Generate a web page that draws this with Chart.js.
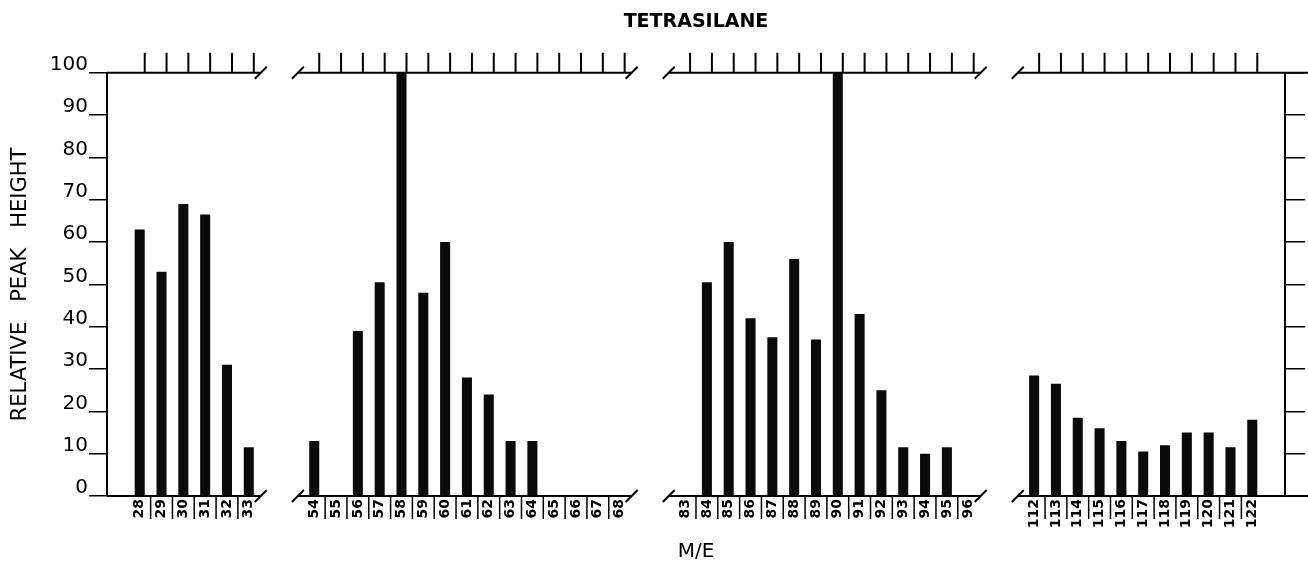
<!DOCTYPE html>
<html>
<head>
<meta charset="utf-8">
<title>Tetrasilane</title>
<script src="https://cdn.jsdelivr.net/npm/chart.js@4.4.1/dist/chart.umd.min.js"></script>
<style>
  html, body { margin: 0; padding: 0; background: #fff; }
  #wrap { width: 1308px; height: 567px; position: relative; }
</style>
</head>
<body>
<div id="wrap"><canvas id="massChart"></canvas></div>
<script>
// m/e groups on the broken axis
const groupA = ['28', '29', '30', '31', '32', '33'];
const groupB = ['54', '55', '56', '57', '58', '59', '60', '61', '62', '63', '64', '65', '66', '67', '68'];
const groupC = ['83', '84', '85', '86', '87', '88', '89', '90', '91', '92', '93', '94', '95', '96'];
const groupD = ['112', '113', '114', '115', '116', '117', '118', '119', '120', '121', '122'];

// relative peak heights
const heightsA = [63, 53, 69, 66.5, 31, 11.5];
const heightsB = [13, 0, 39, 50.5, 100, 48, 60, 28, 24, 13, 13, 0, 0, 0, 0];
const heightsC = [0, 50.5, 60, 42, 37.5, 56, 37, 100, 43, 25, 11.5, 10, 11.5, 0];
const heightsD = [28.5, 26.5, 18.5, 16, 13, 10.5, 12, 15, 15, 11.5, 18];

const yMin = 0;
const yMax = 100;
const yStep = 10;

// blank slots make the gaps where the axis is broken
const gap = ['', ''];
const labels = [''].concat(groupA, gap, groupB, gap, groupC, gap, groupD, ['']);
const heights = [null].concat(heightsA, [null, null], heightsB, [null, null],
    heightsC, [null, null], heightsD, [null]);

Chart.defaults.font.family = "'DejaVu Sans', sans-serif";
Chart.defaults.color = '#000';

// top/bottom axis lines with break marks, top ticks, label separators
const brokenAxes = {
    id: 'brokenAxes',
    afterDraw(chart) {
        const ctx = chart.ctx;
        const xs = chart.scales.x;
        const area = chart.chartArea;
        const slot = xs.getPixelForTick(1) - xs.getPixelForTick(0);

        // runs of filled labels = axis segments
        const segs = [];
        let start = null;
        labels.forEach((lab, i) => {
            if (lab !== '' && start === null) start = i;
            if (lab === '' && start !== null) { segs.push([start, i - 1]); start = null; }
        });
        if (start !== null) segs.push([start, labels.length - 1]);

        ctx.save();
        ctx.strokeStyle = '#000';
        ctx.lineWidth = 2;
        ctx.lineCap = 'butt';

        const slash = (x, y) => {
            ctx.beginPath();
            ctx.moveTo(x - 6, y + 6);
            ctx.lineTo(x + 6, y - 6);
            ctx.stroke();
        };

        segs.forEach((s, k) => {
            const first = k === 0;
            const last = k === segs.length - 1;
            const x0 = first ? area.left : xs.getPixelForTick(s[0]) - 0.75 * slot;
            const x1 = last ? chart.width : xs.getPixelForTick(s[1]) + 0.55 * slot;
            [area.top, area.bottom].forEach(y => {
                ctx.beginPath();
                ctx.moveTo(x0, y);
                ctx.lineTo(x1, y);
                ctx.stroke();
                if (!first) slash(x0, y);
                if (!last) slash(x1, y);
            });

            for (let i = s[0]; i <= s[1]; i++) {
                const px = xs.getPixelForTick(i);
                // tick marks above the top line
                ctx.beginPath();
                ctx.moveTo(px + 5, area.top);
                ctx.lineTo(px + 5, area.top - 20);
                ctx.stroke();
                // separators between the m/e labels
                if (i > s[0]) {
                    const mid = (px + xs.getPixelForTick(i - 1)) / 2;
                    ctx.lineWidth = 1.5;
                    ctx.beginPath();
                    ctx.moveTo(mid, area.bottom);
                    ctx.lineTo(mid, area.bottom + 23);
                    ctx.stroke();
                    ctx.lineWidth = 2;
                }
            }
        });
        ctx.restore();
    }
};

const ctx = document.getElementById('massChart').getContext('2d');
new Chart(ctx, {
    type: 'bar',
    data: {
        labels: labels,
        datasets: [{
            data: heights,
            backgroundColor: '#0a0a0a',
            borderWidth: 0,
            barPercentage: 0.46,
            categoryPercentage: 1.0
        }]
    },
    options: {
        responsive: true,
        maintainAspectRatio: false,
        animation: false,
        layout: { padding: 0 },
        plugins: {
            legend: { display: false },
            tooltip: { enabled: false },
            title: {
                display: true,
                text: 'TETRASILANE',
                fullSize: false,
                color: '#000',
                font: { size: 19, weight: 'bold' },
                padding: { top: 11, bottom: 39 }
            }
        },
        scales: {
            x: {
                type: 'category',
                grid: { display: false, drawTicks: false },
                border: { display: false },
                ticks: {
                    autoSkip: false,
                    minRotation: 90,
                    maxRotation: 90,
                    padding: 3,
                    color: '#000',
                    font: { size: 14, weight: 'bold' }
                },
                title: {
                    display: true,
                    text: 'M/E',
                    color: '#000',
                    font: { size: 20 },
                    padding: { top: 0, bottom: 3 }
                },
                afterFit(scale) { scale.height = 71; }
            },
            y: {
                position: 'left',
                min: yMin,
                max: yMax,
                ticks: {
                    stepSize: yStep,
                    padding: 1,
                    labelOffset: -8,
                    color: '#000',
                    font: { size: 20 }
                },
                grid: {
                    drawOnChartArea: false,
                    drawTicks: true,
                    tickLength: 18,
                    color: '#000',
                    lineWidth: 1.5
                },
                border: { display: true, color: '#000', width: 2 },
                title: {
                    display: true,
                    text: 'RELATIVE   PEAK   HEIGHT',
                    color: '#000',
                    font: { size: 21 },
                    padding: { top: 8, bottom: 8 }
                },
                afterFit(scale) { scale.width = 107; }
            },
            y2: {
                position: 'right',
                min: yMin,
                max: yMax,
                ticks: { stepSize: yStep, display: false },
                grid: {
                    drawOnChartArea: false,
                    drawTicks: true,
                    tickLength: 20,
                    color: '#000',
                    lineWidth: 1.5
                },
                border: { display: true, color: '#000', width: 2 },
                afterFit(scale) { scale.width = 23; }
            }
        }
    },
    plugins: [brokenAxes]
});
</script>
</body>
</html>
